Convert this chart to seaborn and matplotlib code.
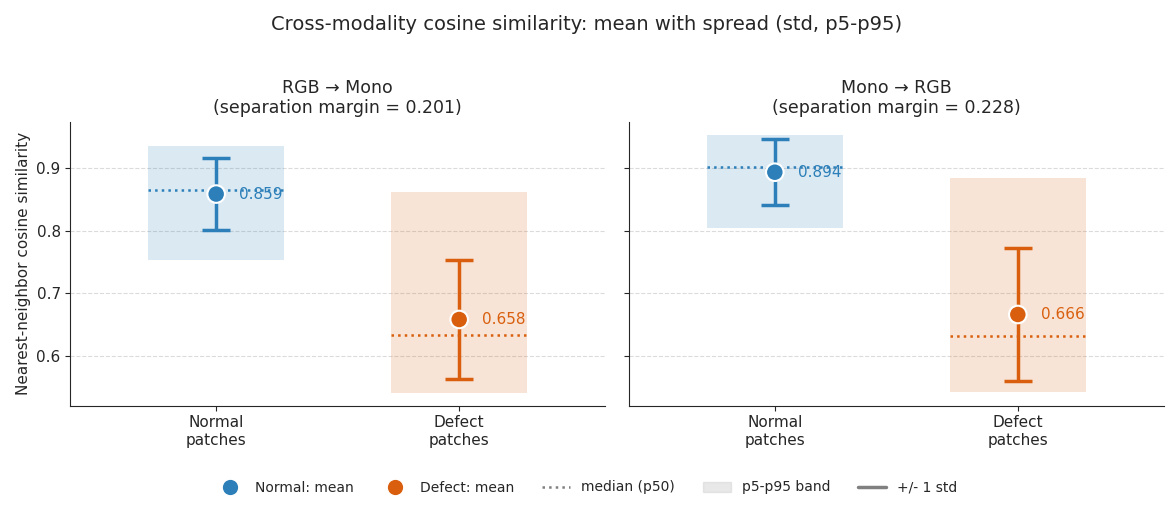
import numpy as np
import pandas as pd
import matplotlib
matplotlib.use("Agg")
import matplotlib.pyplot as plt
import seaborn as sns
from matplotlib.lines import Line2D
from matplotlib.patches import Patch

groups = ["Normal\npatches", "Defect\npatches"]
panels = ["RGB \u2192 Mono\n(separation margin = 0.201)",
          "Mono \u2192 RGB\n(separation margin = 0.228)"]
means = [[0.859, 0.658], [0.894, 0.666]]
stds = [[0.057, 0.096], [0.053, 0.106]]
p5 = [[0.753, 0.540], [0.805, 0.541]]
p95 = [[0.936, 0.862], [0.954, 0.885]]
p50 = [[0.866, 0.633], [0.903, 0.632]]
colors = ["#2c7fb8", "#d95f0e"]

sns.set_style("ticks")
plt.rcParams['font.family'] = ['DejaVu Sans']
fig, axes = plt.subplots(1, 2, figsize=(11.73, 5.07), dpi=100, sharey=True)

for k, ax in enumerate(axes):
    df = pd.DataFrame({"x": [0, 1], "mean": means[k], "g": ["Normal", "Defect"]})
    for i in range(2):
        c = colors[i]
        ax.fill_between([i - 0.28, i + 0.28], p5[k][i], p95[k][i], color=c, alpha=0.17, lw=0, zorder=1)
        ax.plot([i - 0.28, i + 0.28], [p50[k][i]] * 2, ls=":", color=c, lw=1.8, zorder=2)
        ax.errorbar(i, means[k][i], yerr=stds[k][i], color=c, lw=2.5, capsize=10, capthick=2.5, zorder=3)
        ax.text(i + 0.095, means[k][i], f"{means[k][i]:.3f}", color=c, fontsize=11, va="center", zorder=5)
    sns.scatterplot(data=df, x="x", y="mean", hue="g", palette=colors, s=160, edgecolor="white",
                    linewidth=1.5, zorder=4, legend=False, ax=ax)
    ax.set_xlim(-0.6, 1.6)
    ax.set_ylim(0.52, 0.975)
    ax.set_xticks([0, 1])
    ax.set_xticklabels(groups, fontsize=11)
    ax.set_yticks([0.6, 0.7, 0.8, 0.9])
    ax.tick_params(labelsize=11)
    ax.grid(axis="y", ls="--", color="#cccccc", alpha=0.7)
    ax.set_axisbelow(True)
    ax.set_xlabel("")
    ax.set_ylabel("")
    ax.set_title(panels[k], fontsize=12.5)
    sns.despine(ax=ax)

axes[0].set_ylabel("Nearest-neighbor cosine similarity", fontsize=11)
fig.suptitle("Cross-modality cosine similarity: mean with spread (std, p5-p95)", fontsize=14, y=0.97)

handles = [
    Line2D([], [], marker="o", ls="", color=colors[0], markersize=12, markeredgecolor="white"),
    Line2D([], [], marker="o", ls="", color=colors[1], markersize=12, markeredgecolor="white"),
    Line2D([], [], ls=":", color="gray", lw=1.8),
    Patch(color="lightgray", alpha=0.5),
    Line2D([], [], color="gray", lw=2.5),
]
labels = ["Normal: mean", "Defect: mean", "median (p50)", "p5-p95 band", "+/- 1 std"]
fig.legend(handles, labels, loc="lower center", ncol=5, frameon=False, fontsize=10, bbox_to_anchor=(0.5, 0.0))
fig.subplots_adjust(left=0.06, right=0.992, top=0.76, bottom=0.2, wspace=0.045)
fig.savefig("out.png", dpi=100)
